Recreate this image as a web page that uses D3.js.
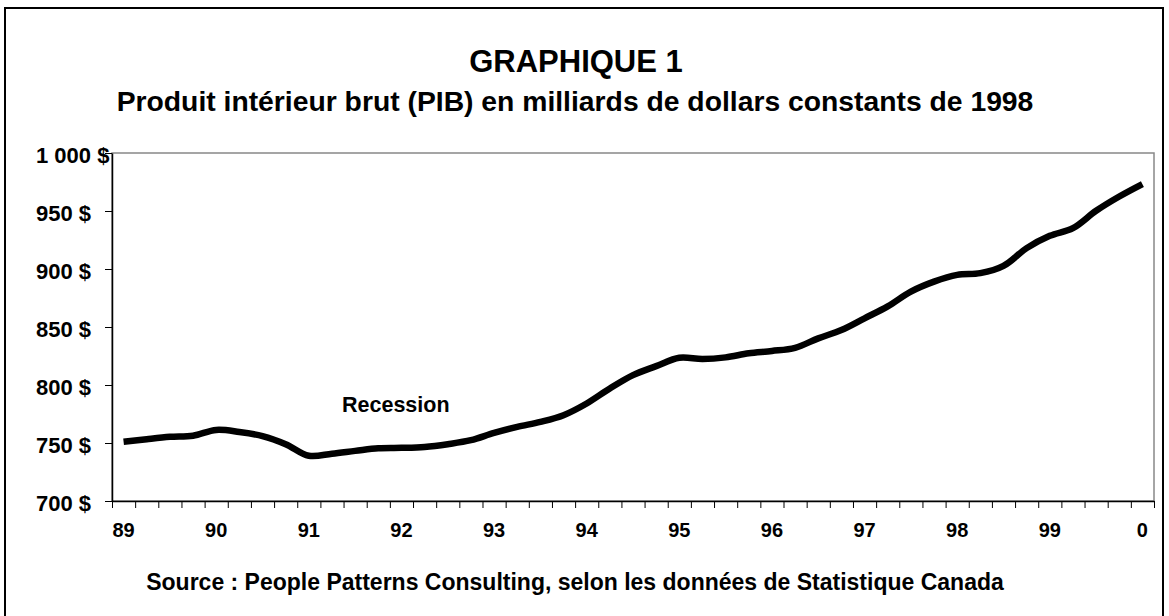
<!DOCTYPE html>
<html>
<head>
<meta charset="utf-8">
<script src="https://cdn.jsdelivr.net/npm/d3@7"></script>
<style>
  body { margin: 0; background: #fff; }
  svg { font-family: Arial, "Liberation Sans", sans-serif; }
</style>
</head>
<body>
<div id="viz"></div>
<script>
const width = 1169;
const height = 616;
const margin = {top: 153, right: 15, bottom: 115, left: 112}; // plot area edges

// Quarterly GDP, 1989 T1 to 2000 T1 (billions of constant 1998 dollars)
const yearLabels = ['89', '90', '91', '92', '93', '94', '95', '96', '97', '98', '99', '0'];
const quarters = ['T1', 'T2', 'T3', 'T4'];
const categories = [];
yearLabels.forEach(y => quarters.forEach(q => categories.push(y + q)));
categories.splice(45); // series stops at 2000 T1

const gdp = [751, 753.3, 755.3, 756.3, 761.3, 759.5, 756, 749, 739, 740.8,
  743.2, 745.5, 745.8, 746.6, 749, 752.4, 758.7, 763.9, 768.2, 774,
  784.1, 797, 808.5, 816.3, 823.5, 822.4, 823.8, 827.3, 829.3, 832.1,
  840.2, 847.4, 857.5, 867.8, 880.5, 889.1, 894.9, 896.4, 902.7, 918,
  928.6, 935.2, 950.2, 962.5, 973.2];

const yTicks = [700, 750, 800, 850, 900, 950, 1000];
const fmt = v => d3.format(',')(v).replace(',', ' ') + ' $';

const svg = d3.select('#viz')
  .append('svg')
    .attr('width', width)
    .attr('height', height);

// outer frame
svg.append('rect')
  .attr('x', 5)
  .attr('y', 8)
  .attr('width', 1158)
  .attr('height', 640)
  .attr('fill', 'none')
  .attr('stroke', '#000')
  .attr('stroke-width', 2);

const x = d3.scaleBand()
  .domain(categories)
  .range([margin.left, width - margin.right]);

const xTick = d3.scaleLinear()
  .domain([0, categories.length])
  .range([margin.left, width - margin.right]);

const y = d3.scaleLinear()
  .domain([700, 1000])
  .range([height - margin.bottom, margin.top]);

// plot area border (gray, like Excel)
svg.append('rect')
  .attr('x', margin.left)
  .attr('y', margin.top)
  .attr('width', width - margin.left - margin.right)
  .attr('height', height - margin.top - margin.bottom)
  .attr('fill', 'none')
  .attr('stroke', '#888')
  .attr('stroke-width', 1.5);

// y axis
const yAxis = svg.append('g')
  .attr('transform', `translate(${margin.left}, 0)`)
  .call(d3.axisLeft(y).tickValues(yTicks).tickFormat(fmt).tickSize(7).tickSizeOuter(0));
yAxis.select('.domain').attr('stroke', '#000').attr('stroke-width', 1.5);
yAxis.selectAll('.tick line').attr('stroke', '#000');
yAxis.selectAll('.tick text')
  .attr('x', 36 - margin.left)
  .attr('dy', '0.45em')
  .attr('text-anchor', 'start')
  .style('font-size', '22px')
  .style('font-weight', 'bold')
  .style('font-family', 'Arial, "Liberation Sans", sans-serif')
  .attr('fill', '#000');

// x axis: tick marks between quarters
const xAxis = svg.append('g')
  .attr('transform', `translate(0, ${height - margin.bottom})`)
  .call(d3.axisBottom(xTick).tickValues(d3.range(0, categories.length + 1)).tickFormat('').tickSize(7).tickSizeOuter(0));
xAxis.select('.domain').attr('stroke', '#000').attr('stroke-width', 1.5);
xAxis.selectAll('.tick line').attr('stroke', '#000');

// x labels: one per year, under the first quarter
const xLab = svg.append('g')
  .attr('transform', `translate(0, ${height - margin.bottom})`)
  .call(d3.axisBottom(x)
    .tickValues(categories.filter((d, i) => i % 4 === 0))
    .tickFormat(d => d.replace(/T\d$/, ''))
    .tickSize(0));
xLab.select('.domain').remove();
xLab.selectAll('.tick text')
  .attr('y', 22)
  .attr('dy', '0.71em')
  .style('font-size', '20px')
  .style('font-weight', 'bold')
  .style('font-family', 'Arial, "Liberation Sans", sans-serif')
  .attr('fill', '#000');

// GDP line, smoothed
const line = d3.line()
  .x((d, i) => x(categories[i]) + x.bandwidth() / 2)
  .y(d => y(d))
  .curve(d3.curveCatmullRom);

svg.append('path')
  .attr('d', line(gdp))
  .attr('fill', 'none')
  .attr('stroke', '#000')
  .attr('stroke-width', 6.5)
  .attr('stroke-linejoin', 'round');

// annotation
svg.append('text')
  .attr('x', 342)
  .attr('y', 412)
  .style('font-size', '21.5px')
  .style('font-weight', 'bold')
  .text('Recession');

// titles
svg.append('text')
  .attr('x', 576)
  .attr('y', 72)
  .attr('text-anchor', 'middle')
  .style('font-size', '31px')
  .style('font-weight', 'bold')
  .text('GRAPHIQUE 1');

svg.append('text')
  .attr('x', 575)
  .attr('y', 111)
  .attr('text-anchor', 'middle')
  .style('font-size', '28.3px')
  .style('font-weight', 'bold')
  .text('Produit intérieur brut (PIB) en milliards de dollars constants de 1998');

// source
svg.append('text')
  .attr('x', 575)
  .attr('y', 590)
  .attr('text-anchor', 'middle')
  .style('font-size', '23px')
  .style('font-weight', 'bold')
  .text('Source : People Patterns Consulting, selon les données de Statistique Canada');
</script>
</body>
</html>
